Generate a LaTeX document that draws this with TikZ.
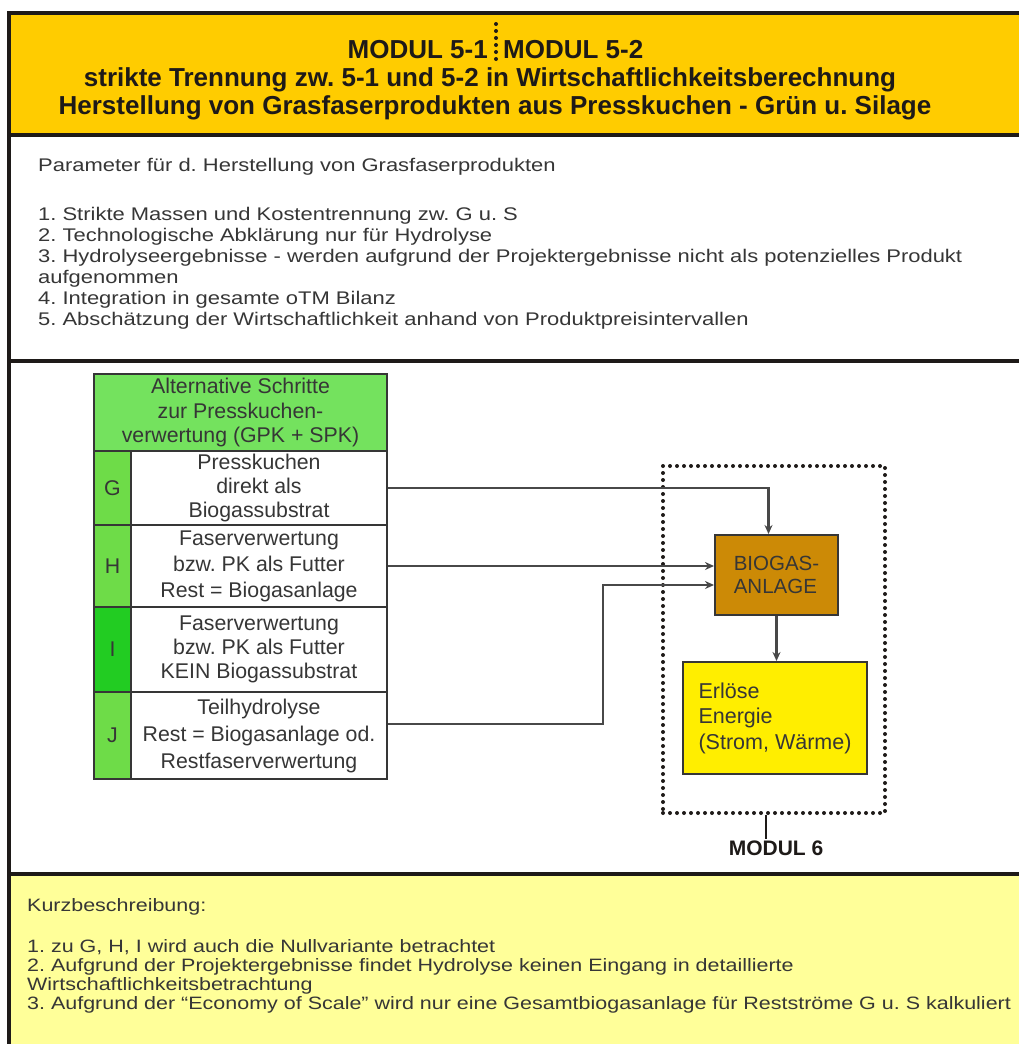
\documentclass[tikz,border=0pt]{standalone}
\usepackage{fontspec}
\setmainfont{Liberation Sans}
\newfontfamily\widefont{Liberation Sans}[FakeStretch=1.2]
\usetikzlibrary{arrows.meta,calc}
\frenchspacing

\definecolor{hdrfill}{HTML}{FFCC00}
\definecolor{notefill}{HTML}{FFFF99}
\definecolor{frame}{HTML}{1E1A18}
\definecolor{txt}{HTML}{363636}
\definecolor{tline}{HTML}{363636}
\definecolor{thead}{HTML}{74E25E}
\definecolor{gcell}{HTML}{6EDC48}
\definecolor{icell}{HTML}{22CC22}
\definecolor{biofill}{HTML}{CC8A06}
\definecolor{erlfill}{HTML}{FFEE00}
\definecolor{conn}{HTML}{484848}

\tikzset{
  hdrtext/.style={font=\fontsize{26}{28}\selectfont\bfseries, text=frame, inner sep=0pt},
  bodytext/.style={font=\widefont\fontsize{18.3}{20}\selectfont, text=txt, anchor=mid west, inner sep=0pt},
  notetext/.style={font=\widefont\fontsize{17.9}{20}\selectfont, text=txt, anchor=mid west, inner sep=0pt},
  tcell/.style={draw=tline, line width=2pt, inner sep=0pt, anchor=north west,
    align=center, text=txt},
  rowfont/.style={font=\fontsize{21.3}{#1}\selectfont},
  flowbox/.style={draw=tline, line width=2pt, inner sep=0pt, align=left, text=txt},
  arr/.style={draw=conn, line width=2.2pt, -{Stealth[length=9pt,width=8pt]}},
  framerule/.style={draw=frame, line width=4pt},
  dotrule/.style={draw=frame, line width=4pt, dash pattern=on 0pt off 7pt, line cap=round},
}

\begin{document}
\begin{tikzpicture}[x=1pt,y=-1pt]
\useasboundingbox (0,0) rectangle (1019,1044);
\fill[white] (0,0) rectangle (1019,1044);

% bands
\fill[hdrfill] (9,13) rectangle (1019,135);
\fill[notefill] (9,874) rectangle (1019,1044);
\draw[framerule] (7,13) -- (1019,13);
\draw[framerule] (9,135) -- (1019,135);
\draw[framerule] (9,361) -- (1019,361);
\draw[framerule] (9,874) -- (1019,874);
\draw[framerule] (9,11) -- (9,1044);

% title
\node[hdrtext, anchor=east] (m51) at (488,50) {MODUL 5-1};
\node[hdrtext, anchor=west] (m52) at (503,50) {MODUL 5-2};
\draw[dotrule] (496,24) -- (496,64);
\node[hdrtext] (h2) at (490,80) {strikte Trennung zw. 5-1 und 5-2 in Wirtschaftlichkeitsberechnung};
\node[hdrtext] (h3) at (495,108) {Herstellung von Grasfaserprodukten aus Presskuchen - Grün u. Silage};

% parameters
\node[bodytext] (p0) at (38,169) {Parameter für d. Herstellung von Grasfaserprodukten};
\node[bodytext] (p1) at (38,218) {1. Strikte Massen und Kostentrennung zw. G u. S};
\node[bodytext] (p2) at (38,239) {2. Technologische Abklärung nur für Hydrolyse};
\node[bodytext] (p3) at (38,260) {3. Hydrolyseergebnisse - werden aufgrund der Projektergebnisse nicht als potenzielles Produkt};
\node[bodytext] (p3b) at (38,281) {aufgenommen};
\node[bodytext] (p4) at (38,302) {4. Integration in gesamte oTM Bilanz};
\node[bodytext] (p5) at (38,323) {5. Abschätzung der Wirtschaftlichkeit anhand von Produktpreisintervallen};

% table of alternatives
\node[tcell, fill=thead, rowfont=24.5, minimum width=293pt, minimum height=77pt] (th) at (93,373)
  {Alternative Schritte\\zur Presskuchen-\\verwertung (GPK + SPK)};
\node[tcell, fill=gcell, rowfont=24, minimum width=37pt, minimum height=74pt] (Gl) at (93,450) {G};
\node[tcell, fill=white, rowfont=24, minimum width=256pt, minimum height=74pt] (G) at (130,450)
  {Presskuchen\\direkt als\\Biogassubstrat};
\node[tcell, fill=gcell, rowfont=26, minimum width=37pt, minimum height=82pt] (Hl) at (93,524) {H};
\node[tcell, fill=white, rowfont=26, minimum width=256pt, minimum height=82pt] (H) at (130,524)
  {Faserverwertung\\bzw. PK als Futter\\Rest = Biogasanlage};
\node[tcell, fill=icell, rowfont=24, minimum width=37pt, minimum height=85pt] (Il) at (93,606) {I};
\node[tcell, fill=white, rowfont=24, minimum width=256pt, minimum height=85pt] (I) at (130,606)
  {Faserverwertung\\bzw. PK als Futter\\KEIN Biogassubstrat};
\node[tcell, fill=gcell, rowfont=27, minimum width=37pt, minimum height=87pt] (Jl) at (93,691) {J};
\node[tcell, fill=white, rowfont=27, minimum width=256pt, minimum height=87pt] (J) at (130,691)
  {Teilhydrolyse\\Rest = Biogasanlage od.\\Restfaserverwertung};

% module 6
\node[dotrule, minimum width=222pt, minimum height=347pt, inner sep=0pt] (m6box) at (774,639.5) {};
\node[flowbox, fill=biofill, font=\fontsize{20.5}{23}\selectfont, minimum width=123pt, minimum height=80pt] (bio) at (776.5,575)
  {BIOGAS-\\ANLAGE};
\node[flowbox, fill=erlfill, font=\fontsize{21.5}{25.5}\selectfont, minimum width=184pt, minimum height=112pt] (erl) at (775,718)
  {Erlöse\\Energie\\(Strom, Wärme)};
\node[font=\fontsize{21}{24}\selectfont\bfseries, text=frame, inner sep=1pt] (m6) at (776,848) {MODUL 6};

% flows
\draw[arr] (G.east) -| ([xshift=-8pt]bio.north);
\draw[arr] (H.east) -- (H.east -| bio.west);
\coordinate (Jin) at ([yshift=-10pt]bio.west);
\draw[arr] ([yshift=11.5pt]J.east) -| ([xshift=-111pt]Jin) -- (Jin);
\draw[arr] (bio.south) -- (bio.south |- erl.north);
\draw[draw=frame, line width=2pt] ([xshift=-8pt]m6box.south) -- ([xshift=-8pt]m6box.south |- m6.north);

% short description
\node[notetext] (k0) at (27,909) {Kurzbeschreibung:};
\node[notetext] (k1) at (27,950) {1. zu G, H, I wird auch die Nullvariante betrachtet};
\node[notetext] (k2) at (27,969) {2. Aufgrund der Projektergebnisse findet Hydrolyse keinen Eingang in detaillierte};
\node[notetext] (k2b) at (27,988) {Wirtschaftlichkeitsbetrachtung};
\node[notetext] (k3) at (27,1007) {3. Aufgrund der “Economy of Scale” wird nur eine Gesamtbiogasanlage für Restströme G u. S kalkuliert};
\end{tikzpicture}
\end{document}
